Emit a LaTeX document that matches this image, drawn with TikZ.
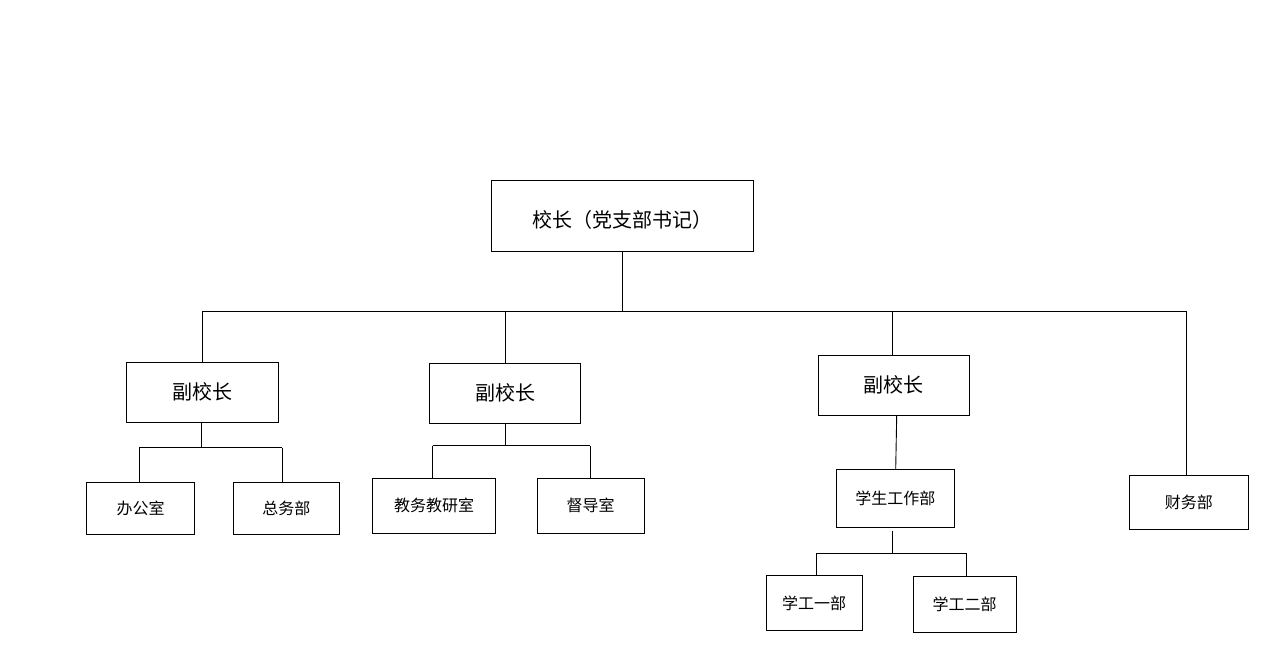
\documentclass[tikz,border=0pt]{standalone}
\usepackage{fontspec}
\setmainfont{Noto Sans CJK SC}
\begin{document}
\begin{tikzpicture}[x=1pt,y=-1pt,
  box/.style={draw=black,line width=0.9pt,inner sep=0pt,align=center},
  big/.style={font=\fontsize{20}{24}\selectfont},
  small/.style={font=\fontsize{16}{19}\selectfont},
  conn/.style={draw=black,line width=0.9pt}]
\fill[white] (0,0) rectangle (1283,668);
\useasboundingbox (0,0) rectangle (1283,668);
% nodes
\node[box,big,minimum width=262pt,minimum height=71pt,text height=25pt,text depth=0pt] (top) at (622,215.5) {校长（党支部书记）};
\node[box,big,minimum width=152pt,minimum height=60pt] (vp1) at (202,392) {副校长};
\node[box,big,minimum width=151pt,minimum height=60pt] (vp2) at (505,393.3) {副校长};
\node[box,big,minimum width=151pt,minimum height=60pt] (vp3) at (893.8,385.3) {副校长};
\node[box,small,minimum width=119pt,minimum height=54pt] (fin) at (1188.8,502.2) {财务部};
\node[box,small,minimum width=107.6pt,minimum height=52pt] (c1) at (140.5,508.3) {办公室};
\node[box,small,minimum width=106pt,minimum height=51.6pt] (c2) at (286.3,508.5) {总务部};
\node[box,small,minimum width=122.6pt,minimum height=55pt] (c3) at (434,505.8) {教务教研室};
\node[box,small,minimum width=107.3pt,minimum height=55pt] (c4) at (590.7,505.8) {督导室};
\node[box,small,minimum width=118pt,minimum height=57.6pt] (stu) at (895.3,498.5) {学生工作部};
\node[box,small,minimum width=96.3pt,minimum height=55.7pt] (s1) at (814.2,602.9) {学工一部};
\node[box,small,minimum width=103pt,minimum height=55.3pt] (s2) at (964.5,604.3) {学工二部};
% junction coordinates
\coordinate (bus) at (622,311);
\coordinate (busL) at (202,311);
\coordinate (busR) at (1186.7,311);
\coordinate (b2) at (505.7,311);
\coordinate (b3) at (892.3,311);
\coordinate (j1) at (201.7,447.7);
\coordinate (j1L) at (139.3,447.7);
\coordinate (j1R) at (282.3,447.7);
\coordinate (j2) at (505.7,445.7);
\coordinate (j2L) at (432.7,445.7);
\coordinate (j2R) at (590.3,445.7);
\coordinate (j3t) at (892.3,530.7);
\coordinate (j3) at (892.3,553.3);
\coordinate (j3L) at (816.7,553.3);
\coordinate (j3R) at (966.7,553.3);
% connectors
\draw[conn] (top.south) -- (bus);
\draw[conn] (busL) -- (busR);
\draw[conn] (busL) -- (vp1.north);
\draw[conn] (b2) -- (b2 |- vp2.north);
\draw[conn] (b3) -- (b3 |- vp3.north);
\draw[conn] (busR) -- (busR |- fin.north);
\draw[conn] (j1 |- vp1.south) -- (j1);
\draw[conn] (j1L) -- (j1R);
\draw[conn] (j1L) -- (j1L |- c1.north);
\draw[conn] (j1R) -- (j1R |- c2.north);
\draw[conn] (j2 |- vp2.south) -- (j2);
\draw[conn] (j2L) -- (j2R);
\draw[conn] (j2L) -- (j2L |- c3.north);
\draw[conn] (j2R) -- (j2R |- c4.north);
\draw[conn] ([xshift=2.9pt]vp3.south) -- ([xshift=0.4pt]stu.north);
\draw[conn] (j3t) -- (j3);
\draw[conn] (j3L) -- (j3R);
\draw[conn] (j3L) -- (j3L |- s1.north);
\draw[conn] (j3R) -- (j3R |- s2.north);
\end{tikzpicture}
\end{document}
